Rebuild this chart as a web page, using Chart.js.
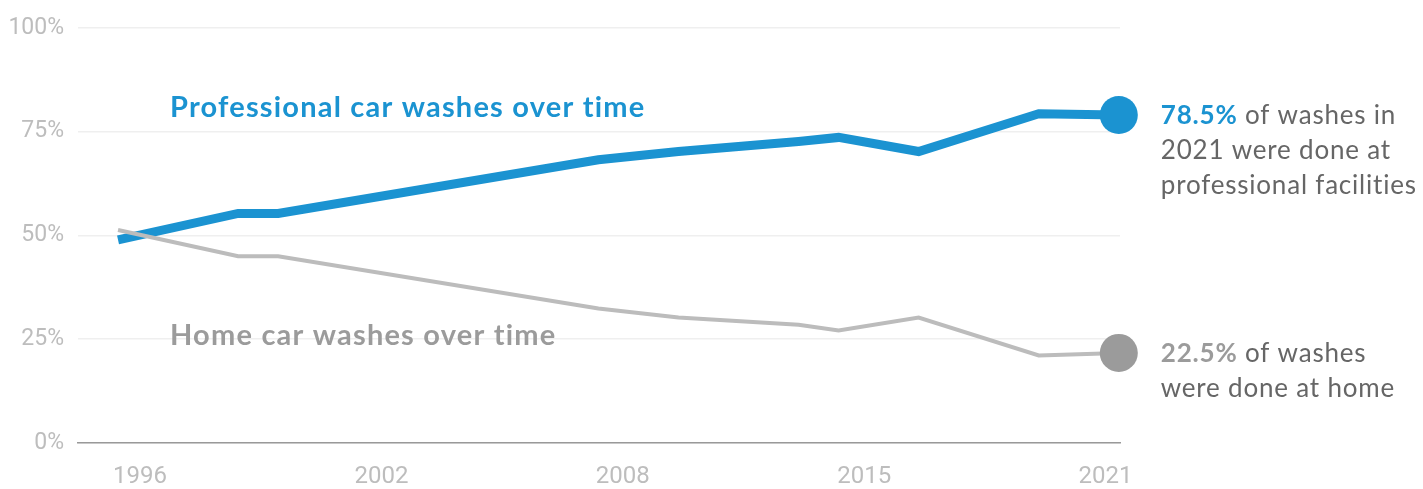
<!DOCTYPE html>
<html>
<head>
<meta charset="utf-8">
<script src="https://cdn.jsdelivr.net/npm/chart.js@4"></script>
<style>
  html, body { margin: 0; padding: 0; background: #fff; }
  #wrap { width: 1423px; height: 489px; }
</style>
</head>
<body>
<div id="wrap"><canvas id="washcnv"></canvas></div>
<script>
// values
const years = [1996, 1999, 2000, 2008, 2010, 2013, 2014, 2016, 2019, 2021];
const professional = [48.9, 55.3, 55.3, 68.2, 70.2, 72.6, 73.6, 70.2, 79.3, 79.0];
const home = [51.3, 45.0, 45.0, 32.4, 30.2, 28.5, 27.1, 30.2, 21.1, 21.7];
const xTickLabels = ['1996', '2002', '2008', '2015', '2021'];
const yTickValues = [0, 25, 50, 75, 100];

const BLUE = '#1b93d1';
const GREY_LINE = '#bcbcbc';
const GREY_DOT = '#9b9b9b';

// labels sit evenly spaced along the axis, not on the data years
const xMin = 1995, xMax = 2021.03;
const xTickPos = xTickLabels.map((l, i) => 1996.55 + i * 6.03);

function toPoints(vals){
  return years.map((y, i) => ({x: y, y: vals[i]}));
}

function endDot(r){
  return years.map((y, i) => i === years.length - 1 ? r : 0);
}

const annotations = {
  id: 'annotations',
  afterDatasetsDraw(chart){
    const ctx = chart.ctx;
    const area = chart.chartArea;
    ctx.save();
    ctx.textBaseline = 'alphabetic';
    ctx.textAlign = 'left';

    // series titles inside the plot
    ctx.font = 'bold 29px Lato';
    ctx.letterSpacing = '1.2px';
    ctx.fillStyle = BLUE;
    ctx.fillText('Professional car washes over time', area.left + 92, 117);
    ctx.fillStyle = GREY_DOT;
    ctx.fillText('Home car washes over time', area.left + 92, 345);

    // end notes to the right of the last points
    const notes = [
      {ds: 0, pct: '78.5%', color: BLUE, lines: [' of washes in', '2021 were done at', 'professional facilities']},
      {ds: 1, pct: '22.5%', color: GREY_DOT, lines: [' of washes', 'were done at home']}
    ];
    ctx.letterSpacing = '0.8px';
    notes.forEach(n => {
      const pts = chart.getDatasetMeta(n.ds).data;
      const last = pts[pts.length - 1];
      const x = last.x + 42;
      let y = last.y + 9;
      ctx.font = 'bold 26px Lato';
      ctx.fillStyle = n.color;
      ctx.fillText(n.pct, x, y);
      const w = ctx.measureText(n.pct).width;
      ctx.font = '26px Lato';
      ctx.fillStyle = '#666';
      ctx.fillText(n.lines[0], x + w, y);
      n.lines.slice(1).forEach(line => {
        y += 35;
        ctx.fillText(line, x, y);
      });
    });
    ctx.restore();
  }
};

const ctx = document.getElementById('washcnv').getContext('2d');
new Chart(ctx, {
  type: 'line',
  data: {
    datasets: [
      {
        label: 'Professional',
        data: toPoints(professional),
        borderColor: BLUE,
        backgroundColor: BLUE,
        borderWidth: 9,
        pointRadius: endDot(19),
        pointBorderWidth: 0,
        pointBackgroundColor: BLUE,
        tension: 0,
        clip: false,
        order: 2
      },
      {
        label: 'Home',
        data: toPoints(home),
        borderColor: GREY_LINE,
        backgroundColor: GREY_DOT,
        borderWidth: 4,
        pointRadius: endDot(19),
        pointBorderWidth: 0,
        pointBackgroundColor: GREY_DOT,
        tension: 0,
        clip: false,
        order: 1
      }
    ]
  },
  options: {
    responsive: true,
    maintainAspectRatio: false,
    animation: false,
    layout: {
      padding: { top: 26, right: 303, left: 0, bottom: 0 }
    },
    plugins: {
      legend: { display: false },
      tooltip: { enabled: false },
      title: { display: false }
    },
    scales: {
      x: {
        type: 'linear',
        min: xMin,
        max: xMax,
        afterBuildTicks: axis => {
          axis.ticks = xTickPos.map(v => ({value: v}));
        },
        afterFit: scale => { scale.height = 46; },
        grid: { display: false, drawTicks: false },
        border: { display: true, color: '#999', width: 1.5 },
        ticks: {
          autoSkip: false,
          maxRotation: 0,
          padding: 20,
          color: '#bdbdbd',
          font: { family: 'Roboto', size: 24 },
          callback: (v, i) => xTickLabels[i]
        }
      },
      y: {
        min: 0,
        max: 100,
        afterBuildTicks: axis => {
          axis.ticks = yTickValues.map(v => ({value: v}));
        },
        afterFit: scale => { scale.width = 78; },
        grid: { color: '#efefef', lineWidth: 1.5, drawTicks: false },
        border: { display: false },
        ticks: {
          padding: 14,
          color: '#bdbdbd',
          font: { family: 'Roboto', size: 23 },
          callback: v => v + '%'
        }
      }
    }
  },
  plugins: [annotations]
});
</script>
</body>
</html>
